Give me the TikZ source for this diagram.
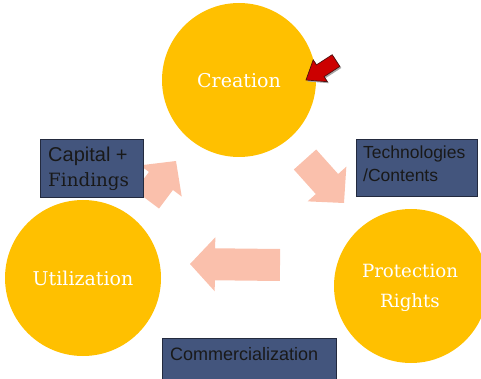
\documentclass[tikz,border=0pt]{standalone}
\usepackage{fontspec}
\newfontfamily\arialf{Liberation Sans}
\newfontfamily\seriff{DejaVu Serif}
\usetikzlibrary{calc}
\definecolor{gold}{RGB}{255,192,0}
\definecolor{salmon}{RGB}{250,192,172}
\definecolor{slate}{RGB}{67,85,125}
\definecolor{slateedge}{RGB}{35,42,62}
\definecolor{redarrow}{RGB}{204,0,0}
\definecolor{rededge}{RGB}{80,15,15}
\tikzset{
  bubble/.style={circle, fill=gold, inner sep=0pt},
  bubbletext/.style={text=white, font=\seriff\fontsize{19}{30}\selectfont, inner sep=0pt},
  labelbox/.style={rectangle, fill=slate, draw=slateedge, line width=0.8pt, inner sep=0pt},
  sanslabel/.style={font=\arialf\fontsize{18}{23}\selectfont, text=black!90, inner sep=0pt, anchor=base west},
  seriflabel/.style={font=\seriff\fontsize{18.3}{25}\selectfont, text=black!90, inner sep=0pt, anchor=base west},
  flowarrow/.style={fill=salmon},
  hintarrow/.style={fill=redarrow, draw=rededge, line width=0.7pt, line join=miter},
  hintshadow/.style={fill=black!35},
}
% #1 name, #2 style, #3 tail, #4 tip, #5 shaft half width, #6 head half width, #7 head depth
\newcommand{\blockarrow}[7]{%
  \coordinate (#1-b) at ($(#4)!#7!(#3)$);
  \path[#2] ($(#3)!#5!90:(#4)$) -- ($(#1-b)!#5!90:(#4)$) -- ($(#1-b)!#6!90:(#4)$)
     -- (#4) -- ($(#1-b)!#6!-90:(#4)$) -- ($(#1-b)!#5!-90:(#4)$) -- ($(#3)!#5!-90:(#4)$) -- cycle;
}
\begin{document}
\begin{tikzpicture}[x=1pt, y=-1pt]
\useasboundingbox (0,0) rectangle (481,379);
\clip (0,0) rectangle (481,379);

% circles
\node[bubble, minimum size=154pt] (creation) at (239,80) {};
\node[bubble, minimum size=156pt] (utilization) at (83,278) {};
\node[bubble, minimum size=154pt] (protection) at (411,286) {};

\node[bubbletext, anchor=base] (creationtext) at (239,88) {Creation};
\node[bubbletext, anchor=base] (utiltext) at (83,285) {Utilization};
\node[bubbletext, anchor=base, font=\seriff\fontsize{18.2}{30}\selectfont] (prottext1) at (410,277) {Protection};
\node[bubbletext, anchor=base, font=\seriff\fontsize{18.2}{30}\selectfont] (prottext2) at (410,307) {Rights};

% flow arrows
\coordinate (a1t) at (305,159.5); \coordinate (a1p) at (344,203);
\blockarrow{a1}{flowarrow}{a1t}{a1p}{15pt}{26pt}{25.5pt}
\coordinate (a3t) at (280,265); \coordinate (a3p) at (190,264);
\blockarrow{a3}{flowarrow}{a3t}{a3p}{16pt}{27pt}{25pt}
\coordinate (a2t) at (147,199.5); \coordinate (a2p) at (176,161);
\blockarrow{a2}{flowarrow}{a2t}{a2p}{15pt}{26pt}{25pt}

% red hint arrow
\coordinate (rt) at (336,60.6); \coordinate (rp) at (306,80);
\coordinate (rts) at (337.5,62.1); \coordinate (rps) at (307.5,81.5);
\blockarrow{rs}{hintshadow}{rts}{rps}{7pt}{13pt}{17pt}
\blockarrow{r}{hintarrow}{rt}{rp}{7pt}{13pt}{17pt}

% label boxes
\node[labelbox, minimum width=103pt, minimum height=58pt] (capbox) at (91.5,168) {};
\node[sanslabel, font=\arialf\fontsize{20}{23}\selectfont] (captext1) at (48,162) {Capital +};
\node[seriflabel] (captext2) at (48,187) {Findings};

\node[labelbox, minimum width=121pt, minimum height=57pt] (techbox) at (416.5,167.5) {};
\node[sanslabel, font=\arialf\fontsize{17.5}{23}\selectfont] (techtext1) at (363,159) {Technologies};
\node[sanslabel, font=\arialf\fontsize{17.5}{23}\selectfont] (techtext2) at (363,182) {/Contents};

\node[labelbox, minimum width=174pt, minimum height=41pt] (combox) at (249,358.5) {};
\node[sanslabel] (comtext) at (170,360) {Commercialization};
\end{tikzpicture}
\end{document}
